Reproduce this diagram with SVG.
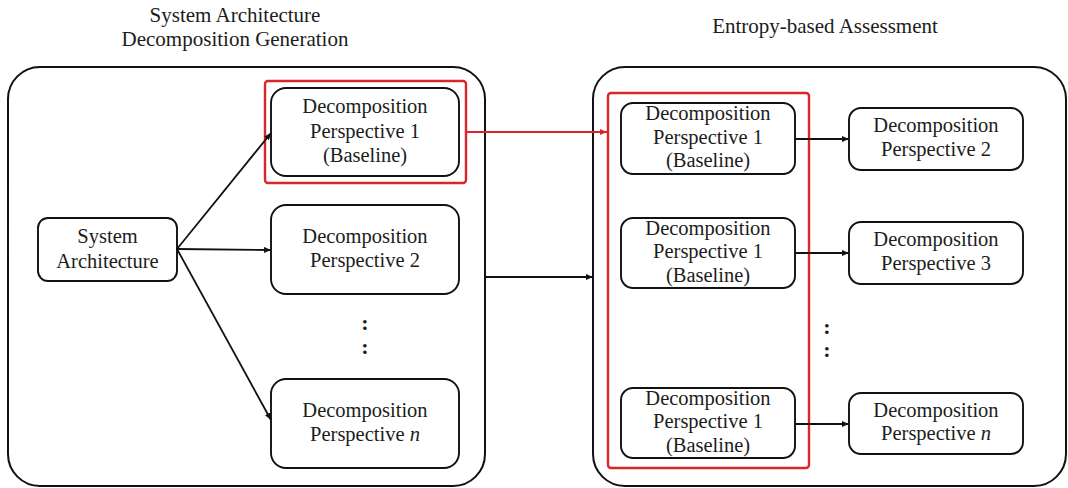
<svg xmlns="http://www.w3.org/2000/svg" width="1068" height="488" viewBox="0 0 1068 488" font-family="Liberation Serif, serif">
<style>
.t{font-size:20.5px;fill:#1c1c1c;text-anchor:middle}
.h{font-size:21px;fill:#1c1c1c;text-anchor:middle}
.node{fill:#fff;stroke:#111;stroke-width:1.9}
.cont{fill:none;stroke:#111;stroke-width:2}
.red{fill:none;stroke:#d9262b;stroke-width:2.4}
.edge{stroke:#111;stroke-width:1.8;fill:none}
.redge{stroke:#d9262b;stroke-width:2.2;fill:none}
.dots{font-size:22px;font-weight:bold;fill:#1c1c1c;text-anchor:middle}
</style>
<defs>
<marker id="ah" markerUnits="userSpaceOnUse" markerWidth="10" markerHeight="8" refX="7" refY="3" orient="auto">
<path d="M0,0 L7,3 L0,6 Z" fill="#111"/>
</marker>
<marker id="ahr" markerUnits="userSpaceOnUse" markerWidth="10" markerHeight="8" refX="7" refY="3" orient="auto">
<path d="M0,0 L7,3 L0,6 Z" fill="#d9262b"/>
</marker>
</defs>
<rect width="1068" height="488" fill="#fff"/>
<g id="titles" font-family="Liberation Serif, serif">
<text class="h" x="235" y="22">System Architecture</text>
<text class="h" x="235" y="46">Decomposition Generation</text>
<text class="h" x="825" y="33">Entropy-based Assessment</text>
</g>
<g id="containers">
<rect id="generation" class="cont" x="8" y="67" width="477" height="419" rx="32"/>
<rect id="assessment" class="cont" x="593" y="67" width="473" height="419" rx="32"/>
</g>
<g id="sysarch" font-family="Liberation Serif, serif">
<rect class="node" x="38" y="218" width="139" height="63" rx="10"/>
<text class="t" x="107.5" y="243">System</text>
<text class="t" x="107.5" y="268">Architecture</text>
</g>
<g id="gen-dp1" font-family="Liberation Serif, serif">
<rect class="node" x="271" y="88" width="188" height="88" rx="15"/>
<text class="t" x="365" y="113">Decomposition</text>
<text class="t" x="365" y="137.5">Perspective 1</text>
<text class="t" x="365" y="162">(Baseline)</text>
</g>
<g id="gen-dp1-highlight">
<rect class="red" x="265" y="81" width="201" height="102" rx="3"/>
</g>
<g id="gen-dp2" font-family="Liberation Serif, serif">
<rect class="node" x="271" y="205" width="188" height="89" rx="15"/>
<text class="t" x="365" y="243">Decomposition</text>
<text class="t" x="365" y="267">Perspective 2</text>
</g>
<g id="gen-dpn" font-family="Liberation Serif, serif">
<rect class="node" x="271" y="379" width="188" height="89" rx="15"/>
<text class="t" x="365" y="417">Decomposition</text>
<text class="t" x="365" y="441">Perspective <tspan font-style="italic">n</tspan></text>
</g>
<g id="gen-dots" font-family="Liberation Serif, serif">
<text class="dots" x="365" y="330">:</text>
<text class="dots" x="365" y="354">:</text>
</g>
<g id="baseline-group">
<rect class="red" x="608" y="93" width="201" height="375" rx="3"/>
</g>
<g id="base-1" font-family="Liberation Serif, serif">
<rect class="node" x="621" y="103" width="174" height="71" rx="12"/>
<text class="t" x="708" y="120">Decomposition</text>
<text class="t" x="708" y="144">Perspective 1</text>
<text class="t" x="708" y="167">(Baseline)</text>
</g>
<g id="base-2" font-family="Liberation Serif, serif">
<rect class="node" x="621" y="218" width="174" height="70" rx="12"/>
<text class="t" x="708" y="235">Decomposition</text>
<text class="t" x="708" y="258">Perspective 1</text>
<text class="t" x="708" y="282">(Baseline)</text>
</g>
<g id="base-3" font-family="Liberation Serif, serif">
<rect class="node" x="621" y="388" width="174" height="70" rx="12"/>
<text class="t" x="708" y="405">Decomposition</text>
<text class="t" x="708" y="428">Perspective 1</text>
<text class="t" x="708" y="452">(Baseline)</text>
</g>
<g id="cmp-dp2" font-family="Liberation Serif, serif">
<rect class="node" x="849" y="108" width="174" height="62" rx="12"/>
<text class="t" x="936" y="132">Decomposition</text>
<text class="t" x="936" y="156">Perspective 2</text>
</g>
<g id="cmp-dp3" font-family="Liberation Serif, serif">
<rect class="node" x="849" y="222" width="174" height="62" rx="12"/>
<text class="t" x="936" y="246">Decomposition</text>
<text class="t" x="936" y="270">Perspective 3</text>
</g>
<g id="cmp-dpn" font-family="Liberation Serif, serif">
<rect class="node" x="849" y="393" width="174" height="61" rx="12"/>
<text class="t" x="936" y="417">Decomposition</text>
<text class="t" x="936" y="440">Perspective <tspan font-style="italic">n</tspan></text>
</g>
<g id="cmp-dots" font-family="Liberation Serif, serif">
<text class="dots" x="827" y="334">:</text>
<text class="dots" x="827" y="357">:</text>
</g>
<g id="connectors">
<line class="edge" x1="177" y1="249" x2="271" y2="133" marker-end="url(#ah)"/>
<line class="edge" x1="177" y1="249" x2="271" y2="250" marker-end="url(#ah)"/>
<line class="edge" x1="177" y1="249" x2="271" y2="420" marker-end="url(#ah)"/>
<line class="edge" x1="485" y1="277" x2="593" y2="277" marker-end="url(#ah)"/>
<line class="edge" x1="795" y1="139" x2="849" y2="139" marker-end="url(#ah)"/>
<line class="edge" x1="795" y1="253" x2="849" y2="253" marker-end="url(#ah)"/>
<line class="edge" x1="795" y1="424" x2="849" y2="424" marker-end="url(#ah)"/>
<line class="redge" x1="466" y1="132" x2="607" y2="132" marker-end="url(#ahr)"/>
</g>
</svg>
